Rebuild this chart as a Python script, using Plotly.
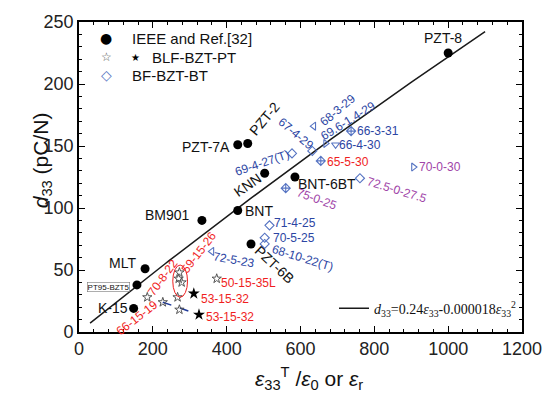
import plotly.graph_objects as go

# ---------------- data ----------------
# IEEE standards and Ref.[32]
ieee_names = ["PZT-8", "PZT-7A", "PZT-2", "KNN", "BNT-6BT", "BNT", "BM901",
              "MLT", "PT95-BZT5", "K-15", "PZT-6B"]
ieee_eps = [1000, 430, 457, 503, 585, 430, 333, 179, 157, 148, 466]
ieee_d33 = [225, 151, 152, 128, 125, 98, 90, 51, 38, 19, 71]

# BF-BZT-BT compositions
bf_names = ["66-3-31", "66-4-30", "69.6-1.4-29", "68-3-29", "67-4-29", "65-5-30",
            "69-4-27(T)", "75-0-25", "72.5-0-27.5", "70-0-30", "71-4-25",
            "70-5-25", "68-10-22(T)", "72-5-23"]
bf_eps = [737, 695, 668, 636, 632, 655, 577, 560, 761, 906, 516, 503, 503, 360]
bf_d33 = [162, 151, 152, 166, 146, 138, 144, 116, 124, 133, 86, 76, 71, 65]

# BLF-BZT-PT compositions
blf_names = ["59-15-26", "", "", "70-8-22", "50-15-35L", "53-15-32", "",
             "66-15-19", "", "53-15-32"]
blf_eps = [272, 270, 278, 185, 373, 311, 267, 227, 272, 325]
blf_d33 = [48, 43, 40, 28, 43, 31, 28, 24, 18, 14]

# empirical fit d33 = A*eps - B*eps^2
fit_a = 0.24
fit_b = 0.000018
fit_range = [30, 1100]

x_ticks = [0, 200, 400, 600, 800, 1000, 1200]
y_ticks = [0, 50, 100, 150, 200, 250]

legend_labels = ["IEEE and Ref.[32]", "BLF-BZT-PT", "BF-BZT-BT"]

# ---------------- styles ----------------
BLUE = "#2c45a3"
BLUE_M = "#5573c2"
PURPLE = "#a044a8"
RED = "#f01e1e"
FONT = "Liberation Sans, Arial, sans-serif"
GLYPH_FONT = "DejaVu Sans, sans-serif"

ieee_lab = {  # xshift, yshift, angle, size
    "PZT-8": (-5, 15, 0, 14), "PZT-7A": (-32, -2, 0, 14), "PZT-2": (16, 25, -50, 14),
    "KNN": (-17, -12, -35, 14), "BNT-6BT": (32, -7, 0, 14), "BNT": (21, -1, 0, 14),
    "BM901": (-34, 5, 0, 14), "MLT": (-23, 6, 0, 14), "PT95-BZT5": (-28, -2, 0, 8),
    "K-15": (-21, 0, 0, 14), "PZT-6B": (23, -20, 43, 14),
}
bf_lab = {
    "66-3-31": (27, 0, 0, BLUE), "66-4-30": (24, 0, 0, BLUE),
    "69.6-1.4-29": (22, 23, -32, BLUE), "68-3-29": (24, 16, -40, BLUE),
    "67-4-29": (-16, 17, 40, BLUE), "65-5-30": (27, -1, 0, RED),
    "69-4-27(T)": (-30, -10, -19, BLUE), "75-0-25": (31, -11, 20, PURPLE),
    "72.5-0-27.5": (37, -12, 17, PURPLE), "70-0-30": (27, 0, 0, PURPLE),
    "71-4-25": (26, 2, 0, BLUE), "70-5-25": (29, 0, 0, BLUE),
    "68-10-22(T)": (38, -14, 17, BLUE), "72-5-23": (22, -9, 10, BLUE),
}
bf_symbols = ["diamond-cross-open", "triangle-down-open", "triangle-right-open",
              "triangle-left-open", "diamond-open", "diamond-cross-open", "diamond-open",
              "diamond-cross-open", "diamond-open", "triangle-right-open", "diamond-open",
              "diamond-open", "diamond-open", "triangle-left-open"]
blf_filled = [False, False, False, False, False, True, False, False, False, True]
blf_lab = {0: (20, 20, -52), 3: (16, 20, -54), 4: (32, -4, 0), 5: (31, -5, 0),
           7: (-26, -16, -38), 9: (31, -2, 0)}

fig = go.Figure()

# fit line
fx = [fit_range[0] + (fit_range[1] - fit_range[0]) * i / 100 for i in range(101)]
fy = [fit_a * v - fit_b * v * v for v in fx]
fig.add_trace(go.Scatter(
    x=fx, y=fy, mode="lines", line=dict(color="#1a1a1a", width=1.5),
    name="<i>d</i><sub>33</sub>=0.24<i>ε</i><sub>33</sub>-0.000018<i>ε</i><sub>33</sub><sup>2</sup>"))

# IEEE points
fig.add_trace(go.Scatter(
    x=ieee_eps, y=ieee_d33, mode="markers", name=legend_labels[0], showlegend=False,
    marker=dict(symbol="circle", size=9, color="black")))

# BLF-BZT-PT stars
open_idx = [i for i, f in enumerate(blf_filled) if not f]
fill_idx = [i for i, f in enumerate(blf_filled) if f]
fig.add_trace(go.Scatter(
    x=[blf_eps[7], blf_eps[9]], y=[blf_d33[7], blf_d33[9]], mode="lines",
    line=dict(color="#1f3a9a", width=1.5, dash="dash"), showlegend=False, hoverinfo="skip"))
fig.add_trace(go.Scatter(
    x=[blf_eps[i] for i in open_idx], y=[blf_d33[i] for i in open_idx], mode="markers",
    name=legend_labels[1], showlegend=False,
    marker=dict(symbol="star-open", size=7, color="#555555", line=dict(width=1))))
fig.add_trace(go.Scatter(
    x=[blf_eps[i] for i in fill_idx], y=[blf_d33[i] for i in fill_idx], mode="markers",
    name=legend_labels[1], showlegend=False, marker=dict(symbol="star", size=9, color="black")))

# BF-BZT-BT
fig.add_trace(go.Scatter(
    x=bf_eps, y=bf_d33, mode="markers", name=legend_labels[2], showlegend=False,
    marker=dict(symbol=bf_symbols, size=7, color=BLUE_M, line=dict(width=1.1))))

ann = []
for n, x, y in zip(ieee_names, ieee_eps, ieee_d33):
    dx, dy, ang, sz = ieee_lab[n]
    extra = {}
    if n == "PT95-BZT5":
        extra = dict(bordercolor="#777", borderwidth=0.6, borderpad=0)
    ann.append(dict(x=x, y=y, text=n, showarrow=False, xshift=dx, yshift=dy,
                    textangle=ang, font=dict(family=FONT, size=sz, color="#111"), **extra))
for n, x, y in zip(bf_names, bf_eps, bf_d33):
    dx, dy, ang, col = bf_lab[n]
    ann.append(dict(x=x, y=y, text=n, showarrow=False, xshift=dx, yshift=dy,
                    textangle=ang, font=dict(family=FONT, size=12, color=col)))
for i, (dx, dy, ang) in blf_lab.items():
    ann.append(dict(x=blf_eps[i], y=blf_d33[i], text=blf_names[i], showarrow=False,
                    xshift=dx, yshift=dy, textangle=ang,
                    font=dict(family=FONT, size=12, color=RED)))

# legend (top-left), drawn as glyph + text
PLOT_L, PLOT_T = 79, 20


def leg(text, px, py, size, color, family, anchor="center"):
    ann.append(dict(xref="paper", yref="paper", x=0, y=1, xshift=px - PLOT_L,
                    yshift=-(py - PLOT_T), xanchor=anchor, yanchor="middle",
                    showarrow=False, text=text,
                    font=dict(family=family, size=size, color=color)))


leg("●", 106, 36, 14, "black", GLYPH_FONT)
leg(legend_labels[0], 130, 36, 15, "#111", FONT, "left")
leg("☆", 106, 55, 12, "#555", GLYPH_FONT)
leg("★", 135, 55, 10, "black", GLYPH_FONT)
leg(legend_labels[1], 150, 55, 15, "#111", FONT, "left")
leg("◇", 106, 73, 14, BLUE_M, GLYPH_FONT)
leg(legend_labels[2], 130, 73, 15, "#111", FONT, "left")

# axis titles
ann.append(dict(xref="paper", yref="paper", x=0, y=0.554, xshift=-52, showarrow=False,
                text="<i>d</i><sub>33</sub> (pC/N)", textangle=-90,
                font=dict(family=FONT, size=21, color="#111")))
ann.append(dict(xref="paper", yref="paper", x=0.52, y=0, yshift=-46, yanchor="middle",
                showarrow=False,
                text="<i>ε</i><sub>33</sub><sup>T</sup> /<i>ε</i><sub>0</sub> or <i>ε</i><sub>r</sub>",
                font=dict(family=FONT, size=21, color="#111")))

# red ellipse around the 59-15-26 group
shapes = [dict(type="circle", xref="x", yref="y",
               x0=min(blf_eps[0:3]) - 16, x1=max(blf_eps[0:3]) + 16,
               y0=min(blf_d33[0:3]) - 12, y1=max(blf_d33[0:3]) + 6,
               line=dict(color=RED, width=1))]

axis_common = dict(showline=True, linecolor="black", linewidth=1.6, mirror="ticks",
                   ticks="inside", ticklen=6, tickwidth=1.2, tickcolor="black",
                   showgrid=False, zeroline=False,
                   tickfont=dict(family=FONT, size=18, color="#222"))

fig.update_layout(
    width=554, height=394,
    margin=dict(l=79, r=21, t=20, b=62),
    paper_bgcolor="white", plot_bgcolor="white",
    xaxis=dict(range=[0, 1200], tickvals=x_ticks,
               minor=dict(dtick=40, ticks="inside", ticklen=3, tickcolor="black", showgrid=False),
               **axis_common),
    yaxis=dict(range=[0, 250], tickvals=y_ticks,
               minor=dict(dtick=10, ticks="inside", ticklen=3, tickcolor="black", showgrid=False),
               **axis_common),
    legend=dict(x=1.0, y=0.075, xanchor="right", yanchor="middle", bgcolor="rgba(0,0,0,0)",
                font=dict(family="Liberation Serif, Times New Roman, serif", size=14,
                          color="#111")),
    annotations=ann, shapes=shapes,
    showlegend=True,
)

fig.write_html("out.html", config={"displayModeBar": False},
               post_script="document.body.style.margin='0';document.body.style.overflow='hidden';")
